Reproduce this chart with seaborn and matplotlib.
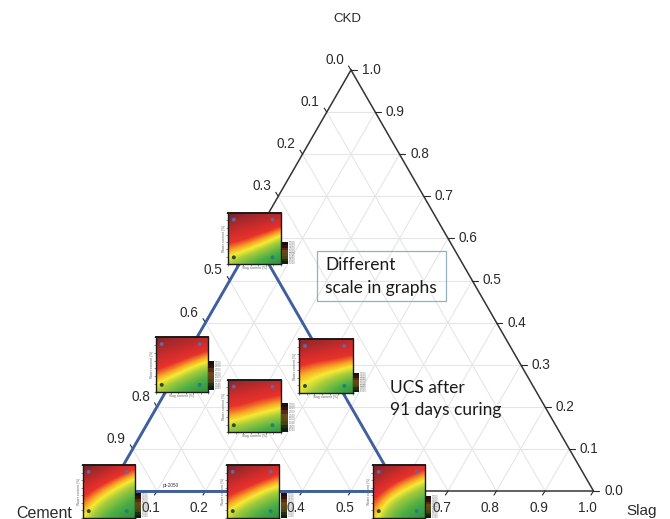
#!/usr/bin/env python3

import numpy as np
import pandas as pd
import matplotlib
matplotlib.use('Agg')
import matplotlib.pyplot as plt
from matplotlib.colors import LinearSegmentedColormap
import seaborn as sns

W, H = 670, 519

grid_levels = [0.1, 0.2, 0.3, 0.4, 0.5, 0.6, 0.7, 0.8, 0.9]
tick_levels = [0.0, 0.1, 0.2, 0.3, 0.4, 0.5, 0.6, 0.7, 0.8, 0.9, 1.0]

# blue outline of the tested mixes (cement, slag, ckd)
mix_cement = [1.0, 0.4, 0.4, 1.0]
mix_slag = [0.0, 0.6, 0.0, 0.0]
mix_ckd = [0.0, 0.0, 0.6, 0.0]

panel_top = [
    [1.00, 0.98, 0.96, 0.93, 0.92, 0.90, 0.88],
    [0.94, 0.90, 0.88, 0.86, 0.84, 0.82, 0.78],
    [0.85, 0.82, 0.80, 0.78, 0.75, 0.70, 0.62],
    [0.76, 0.74, 0.71, 0.66, 0.60, 0.54, 0.46],
    [0.66, 0.62, 0.58, 0.52, 0.46, 0.38, 0.30],
    [0.54, 0.49, 0.43, 0.37, 0.30, 0.24, 0.18],
    [0.44, 0.36, 0.29, 0.23, 0.18, 0.13, 0.10],
]
panel_left = [
    [0.98, 0.96, 0.94, 0.92, 0.90, 0.88, 0.86],
    [0.92, 0.89, 0.87, 0.85, 0.83, 0.80, 0.76],
    [0.84, 0.81, 0.79, 0.76, 0.72, 0.68, 0.62],
    [0.76, 0.73, 0.69, 0.64, 0.58, 0.52, 0.46],
    [0.66, 0.61, 0.56, 0.49, 0.42, 0.36, 0.30],
    [0.54, 0.48, 0.41, 0.35, 0.29, 0.23, 0.19],
    [0.42, 0.35, 0.28, 0.22, 0.17, 0.13, 0.10],
]
panel_right = [
    [0.98, 0.96, 0.94, 0.92, 0.90, 0.88, 0.86],
    [0.90, 0.88, 0.86, 0.84, 0.82, 0.80, 0.78],
    [0.80, 0.78, 0.76, 0.74, 0.72, 0.70, 0.67],
    [0.70, 0.67, 0.64, 0.62, 0.60, 0.57, 0.53],
    [0.60, 0.57, 0.54, 0.50, 0.46, 0.41, 0.36],
    [0.53, 0.50, 0.45, 0.39, 0.33, 0.27, 0.22],
    [0.48, 0.43, 0.36, 0.29, 0.22, 0.15, 0.09],
]
panel_centre = [
    [0.98, 0.96, 0.94, 0.92, 0.90, 0.88, 0.86],
    [0.90, 0.88, 0.86, 0.84, 0.82, 0.80, 0.78],
    [0.80, 0.78, 0.76, 0.74, 0.72, 0.70, 0.68],
    [0.72, 0.70, 0.68, 0.65, 0.62, 0.59, 0.56],
    [0.62, 0.60, 0.57, 0.53, 0.49, 0.46, 0.42],
    [0.50, 0.47, 0.43, 0.39, 0.35, 0.31, 0.28],
    [0.36, 0.32, 0.28, 0.24, 0.20, 0.16, 0.13],
]
panel_bl = [
    [1.00, 0.97, 0.94, 0.90, 0.86, 0.82, 0.76],
    [0.94, 0.90, 0.86, 0.80, 0.75, 0.68, 0.60],
    [0.86, 0.80, 0.74, 0.68, 0.60, 0.52, 0.45],
    [0.76, 0.70, 0.62, 0.54, 0.46, 0.39, 0.33],
    [0.68, 0.59, 0.50, 0.42, 0.35, 0.28, 0.23],
    [0.60, 0.50, 0.40, 0.32, 0.25, 0.20, 0.16],
    [0.52, 0.40, 0.30, 0.23, 0.17, 0.13, 0.10],
]
panel_bm = [
    [1.00, 0.97, 0.94, 0.91, 0.88, 0.84, 0.80],
    [0.94, 0.91, 0.87, 0.83, 0.79, 0.75, 0.70],
    [0.85, 0.81, 0.77, 0.73, 0.68, 0.63, 0.57],
    [0.76, 0.71, 0.66, 0.60, 0.53, 0.47, 0.42],
    [0.66, 0.60, 0.53, 0.46, 0.40, 0.34, 0.29],
    [0.56, 0.48, 0.41, 0.34, 0.28, 0.22, 0.18],
    [0.48, 0.38, 0.30, 0.24, 0.18, 0.13, 0.10],
]
panel_br = [
    [1.00, 0.96, 0.92, 0.88, 0.84, 0.80, 0.76],
    [0.94, 0.89, 0.84, 0.79, 0.74, 0.68, 0.62],
    [0.87, 0.81, 0.74, 0.67, 0.60, 0.54, 0.47],
    [0.79, 0.71, 0.62, 0.54, 0.47, 0.40, 0.34],
    [0.71, 0.61, 0.50, 0.42, 0.35, 0.29, 0.24],
    [0.64, 0.52, 0.40, 0.32, 0.25, 0.20, 0.16],
    [0.58, 0.44, 0.32, 0.24, 0.18, 0.13, 0.10],
]

legend_bands = [0.95, 0.85, 0.7, 0.6, 0.5, 0.38, 0.25, 0.12]
legend_labels = ['3.500', '3.000', '2.500', '2.000', '1.500', '1.000', '0.500', '0.000']

# where the four test mixes sit inside each small plot (fractions of the plot)
point_x = [0.11, 0.84, 0.11, 0.84]
point_y = [0.13, 0.13, 0.87, 0.87]
point_colors = ['#2f4a2a', '#1f7f86', '#6466a8', '#6466a8']

ucs_cmap = LinearSegmentedColormap.from_list('ucs', [
    (0.0, '#1b7a3e'), (0.25, '#4cae45'), (0.42, '#a8cc3c'), (0.52, '#f6ea32'),
    (0.6, '#f8a626'), (0.7, '#e8322b'), (0.8, '#d22c2c'), (0.92, '#a2282b'), (1.0, '#6e2328')])
legend_cmap = LinearSegmentedColormap.from_list('ucs_dark', [
    '#0c140c', '#162414', '#4a4a18', '#6a4618', '#401412', '#160a0a'])

# panel box and legend box in pixels: left, top, right, bottom; last flag is whether the x label fits
panels = [
    (panel_top, (228, 213, 281, 264), (282, 242, 288, 264), True),
    (panel_left, (156, 337, 208, 392), (208, 361, 214, 390), True),
    (panel_right, (299, 339, 353, 393), (353, 373, 359, 392), True),
    (panel_centre, (228, 380, 281, 432), (281, 403, 288, 432), True),
    (panel_bl, (83, 465, 135, 518), (135, 493, 141, 518), False),
    (panel_bm, (227, 465, 279, 518), (281, 493, 287, 518), False),
    (panel_br, (373, 465, 425, 518), (426, 496, 431, 518), False),
]

X0, X1, Y0, Y1 = 108.5, 593.5, 491.0, 70.0
TICK_COLOR = '#2a2a2a'


def to_xy(cement, slag, ckd):
    return slag + ckd / 2, ckd


def px(x, y):
    return (x - X0) / (X1 - X0), (Y0 - y) / (Y0 - Y1)


def line(ax, a, b, color, lw, z):
    df = pd.DataFrame({'x': [a[0], b[0]], 'y': [a[1], b[1]]})
    sns.lineplot(data=df, x='x', y='y', ax=ax, color=color, lw=lw, sort=False,
                 estimator=None, zorder=z, legend=False)


def pixel_axes(fig, box):
    left, top, right, bottom = box
    return fig.add_axes([left / W, 1 - bottom / H, (right - left) / W, (bottom - top) / H], zorder=5)


def draw_panel(fig, values, box, legend_box, has_xlabel):
    ax = pixel_axes(fig, box)
    n = len(values)
    ax.imshow(values, cmap=ucs_cmap, vmin=0, vmax=1, aspect='auto',
              interpolation='bicubic', interpolation_stage='data')
    ax.set_xlim(0, n - 1)
    ax.set_ylim(n - 1, 0)
    pts = pd.DataFrame({'x': np.array(point_x) * (n - 1), 'y': (1 - np.array(point_y)) * (n - 1)})
    sns.scatterplot(data=pts, x='x', y='y', ax=ax, c=point_colors, s=8, linewidth=0, legend=False, clip_on=False)
    ax.set_xticks(np.linspace(0, n - 1, 8))
    ax.set_yticks(np.linspace(0, n - 1, 8))
    ax.set_xticklabels([])
    ax.set_yticklabels([])
    ax.tick_params(length=1.2, width=0.4, color='#444444', bottom=True, left=True, pad=0)
    ax.set_xlabel('Slag content (%)' if has_xlabel else '', fontsize=2.4, color='#666666', labelpad=0)
    ax.set_ylabel('Water content (%)', fontsize=2.4, color='#666666', labelpad=0)
    for s in ax.spines.values():
        s.set_visible(True)
        s.set_linewidth(1.0)
        s.set_color('#1a1a1a')
    ax.spines['top'].set_linewidth(1.4)

    lax = pixel_axes(fig, legend_box)
    sns.heatmap(pd.DataFrame({'v': legend_bands}), ax=lax, cmap=legend_cmap, vmin=0, vmax=1, cbar=False,
                xticklabels=False, yticklabels=False)
    for i, lab in enumerate(legend_labels):
        lax.text(1.15, i + 0.5, lab, fontsize=1.8, color='#777777', va='center', clip_on=False)


def main():
    sns.set_theme(style='white')
    plt.rcParams['font.family'] = ['Liberation Sans', 'DejaVu Sans']

    fig = plt.figure(figsize=(W / 100, H / 100), dpi=100)
    ax = fig.add_axes([0, 0, 1, 1])
    x0, y0 = px(0, H)
    x1, y1 = px(W, 0)
    ax.set_xlim(x0, x1)
    ax.set_ylim(y0, y1)
    ax.axis('off')

    for v in grid_levels:
        rest = 1 - v
        line(ax, to_xy(rest, 0, v), to_xy(0, rest, v), '#e6e6e6', 0.8, 1)
        line(ax, to_xy(v, 0, rest), to_xy(v, rest, 0), '#e6e6e6', 0.8, 1)
        line(ax, to_xy(0, v, rest), to_xy(rest, v, 0), '#e6e6e6', 0.8, 1)

    line(ax, to_xy(1, 0, 0), to_xy(0, 1, 0), '#444444', 1.2, 2)
    line(ax, to_xy(0, 1, 0), to_xy(0, 0, 1), '#333333', 1.1, 2)
    line(ax, to_xy(0, 0, 1), to_xy(1, 0, 0), '#333333', 1.1, 2)

    dx = 1 / (X1 - X0)
    dy = 1 / (Y0 - Y1)
    for v in tick_levels:
        # left axis runs from the top corner downwards
        ex, ey = to_xy(v, 0, 1 - v)
        line(ax, (ex, ey), (ex - 2.5 * dx, ey + 4 * dy), TICK_COLOR, 0.8, 2)
        ax.text(ex - 16.5 * dx, ey + 10 * dy, f'{v:.1f}', fontsize=9.8, ha='center', va='center', color=TICK_COLOR)
        # right axis
        ex, ey = to_xy(0, 1 - v, v)
        line(ax, (ex, ey), (ex + 6 * dx, ey), TICK_COLOR, 0.8, 2)
        ax.text(ex + 20 * dx, ey, f'{v:.1f}', fontsize=9.8, ha='center', va='center', color=TICK_COLOR)
        # bottom axis
        ex, ey = to_xy(1 - v, v, 0)
        line(ax, (ex, ey), (ex - 2.5 * dx, ey - 4 * dy), TICK_COLOR, 0.8, 2)
        ax.text(ex - 6.5 * dx, ey - 17 * dy, f'{v:.1f}', fontsize=9.8, ha='center', va='center', color=TICK_COLOR)

    for i in range(len(mix_cement) - 1):
        a = to_xy(mix_cement[i], mix_slag[i], mix_ckd[i])
        b = to_xy(mix_cement[i + 1], mix_slag[i + 1], mix_ckd[i + 1])
        line(ax, a, b, '#3f5f9e', 2.1, 3)

    for values, box, legend_box, has_xlabel in panels:
        draw_panel(fig, values, box, legend_box, has_xlabel)

    fig.text(347 / W, 1 - 19 / H, 'CKD', fontsize=9.5, ha='center', va='center', color=TICK_COLOR)
    fig.text(44 / W, 1 - 513 / H, 'Cement', fontsize=11.5, ha='center', va='center', color=TICK_COLOR, zorder=9)
    fig.text(642 / W, 1 - 511 / H, 'Slag', fontsize=11, ha='center', va='center', color=TICK_COLOR)
    fig.text(171 / W, 1 - 485 / H, 'pt-2050', fontsize=3.4, ha='center', va='center', color='#333355', zorder=9)

    fig.text(325 / W, 1 - 265 / H, 'Different', fontsize=12.5, family='Lato', va='center', color='#1a1a1a')
    fig.text(325 / W, 1 - 288 / H, 'scale in graphs', fontsize=12.5, family='Lato', va='center', color='#1a1a1a')
    fig.patches.append(plt.Rectangle((317 / W, 1 - 301 / H), 129 / W, 50 / H, transform=fig.transFigure,
                                     fill=False, edgecolor='#8fb0bd', lw=0.9))
    fig.text(390 / W, 1 - 388 / H, 'UCS after', fontsize=12.5, family='Lato', va='center', color='#1a1a1a')
    fig.text(390 / W, 1 - 410 / H, '91 days curing', fontsize=12.5, family='Lato', va='center', color='#1a1a1a')

    fig.savefig('out.png', dpi=100)
    plt.close(fig)


if __name__ == "__main__":
    main()
